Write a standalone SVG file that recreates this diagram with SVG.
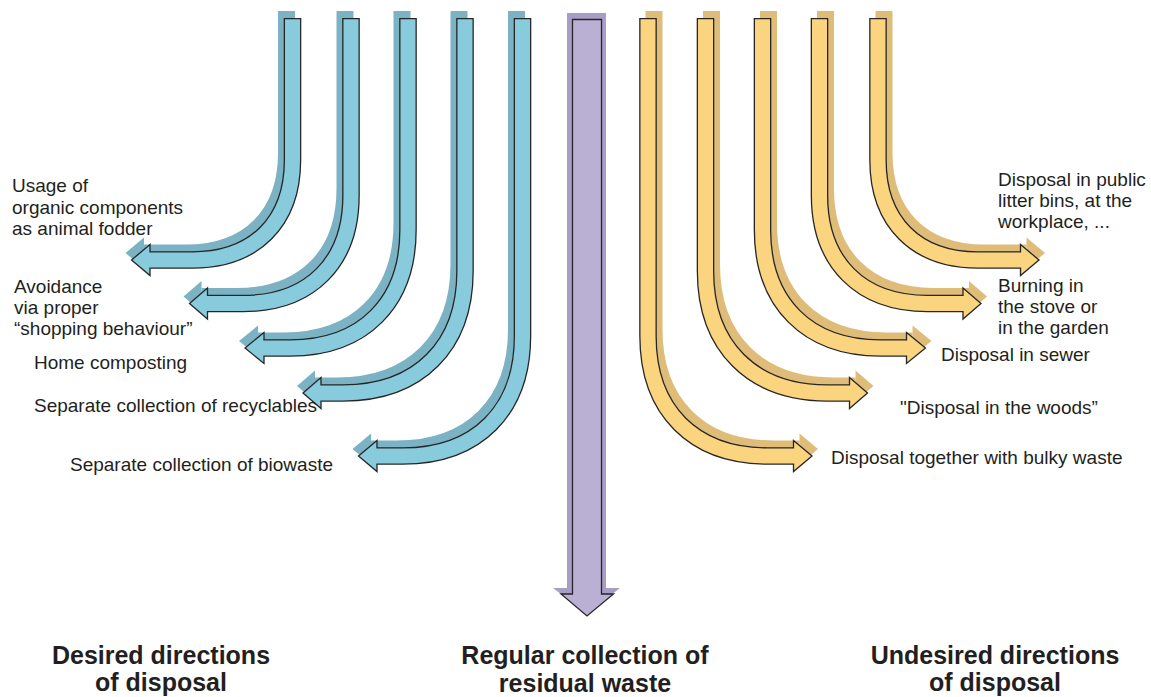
<svg xmlns="http://www.w3.org/2000/svg" width="1151" height="697" viewBox="0 0 1151 697">
<style>
.ol{fill:none;stroke:#262626;stroke-width:17.6}
.bc{fill:none;stroke:#87cbdc;stroke-width:15}
.bs{fill:none;stroke:#7bb3c5;stroke-width:17}
.bsf{fill:#7bb3c5}
.bh{fill:#87cbdc;stroke:#262626;stroke-width:1.3}
.yc{fill:none;stroke:#fbd47f;stroke-width:15}
.ys{fill:none;stroke:#dfbd79;stroke-width:17}
.ysf{fill:#dfbd79}
.yh{fill:#fbd47f;stroke:#262626;stroke-width:1.3}
text{font-family:"Liberation Sans",Arial,sans-serif;fill:#231f20}
.lb{font-size:19px}
.tt{font-size:25px;font-weight:bold;text-anchor:middle}
</style>
<rect width="1151" height="697" fill="#ffffff"/>
<g id="connectors">
  <g id="blue1">
    <g transform="translate(-6,-7)"><path class="bs" d="M292.5,18 V160 C292.5,222 254.5,260 192.5,260 H150"/><polygon class="bsf" points="150,244.5 131.5,260 150,275.5"/></g>
    <path class="ol" d="M292.5,18 V160 C292.5,222 254.5,260 192.5,260 H150"/>
    <polygon class="bh" points="150,244.5 131.5,260 150,275.5"/>
    <path class="bc" d="M292.5,19.3 V160 C292.5,222 254.5,260 192.5,260 H148.5"/>
  </g>
  <g id="blue2">
    <g transform="translate(-6,-7)"><path class="bs" d="M351,18 V195.5 C351,262.5 310,303.5 243,303.5 H207.5"/><polygon class="bsf" points="207.5,288 189.5,303.5 207.5,319"/></g>
    <path class="ol" d="M351,18 V195.5 C351,262.5 310,303.5 243,303.5 H207.5"/>
    <polygon class="bh" points="207.5,288 189.5,303.5 207.5,319"/>
    <path class="bc" d="M351,19.3 V195.5 C351,262.5 310,303.5 243,303.5 H206"/>
  </g>
  <g id="blue3">
    <g transform="translate(-6,-7)"><path class="bs" d="M408,18 V230 C408,303 363,348 290,348 H264"/><polygon class="bsf" points="264,332.5 245,348 264,363.5"/></g>
    <path class="ol" d="M408,18 V230 C408,303 363,348 290,348 H264"/>
    <polygon class="bh" points="264,332.5 245,348 264,363.5"/>
    <path class="bc" d="M408,19.3 V230 C408,303 363,348 290,348 H262.5"/>
  </g>
  <g id="blue4">
    <g transform="translate(-6,-7)"><path class="bs" d="M465,18 V271 C465,346.5 418.5,393 343,393 H321"/><polygon class="bsf" points="321,377.5 303,393 321,408.5"/></g>
    <path class="ol" d="M465,18 V271 C465,346.5 418.5,393 343,393 H321"/>
    <polygon class="bh" points="321,377.5 303,393 321,408.5"/>
    <path class="bc" d="M465,19.3 V271 C465,346.5 418.5,393 343,393 H319.5"/>
  </g>
  <g id="blue5">
    <g transform="translate(-6,-7)"><path class="bs" d="M522.5,18 V336 C522.5,410.5 477,456 402.5,456 H377"/><polygon class="bsf" points="377,440.5 358.5,456 377,471.5"/></g>
    <path class="ol" d="M522.5,18 V336 C522.5,410.5 477,456 402.5,456 H377"/>
    <polygon class="bh" points="377,440.5 358.5,456 377,471.5"/>
    <path class="bc" d="M522.5,19.3 V336 C522.5,410.5 477,456 402.5,456 H375.5"/>
  </g>
  <g id="purple">
    <polygon fill="#a89dc4" points="567,13 606,13 606,588 620,588 587,614 553,588 567,588"/>
    <polygon fill="#bab0d4" stroke="#262626" stroke-width="1.3" points="572.5,19.5 601.5,19.5 601.5,594 613.5,594 587,616 561,594 572.5,594"/>
  </g>
  <g id="yellow1">
    <g transform="translate(6,-7)"><path class="ys" d="M648,18 V336 C648,410.5 693.5,456 768,456 H793.5"/><polygon class="ysf" points="793.5,440.5 812,456 793.5,471.5"/></g>
    <path class="ol" d="M648,18 V336 C648,410.5 693.5,456 768,456 H793.5"/>
    <polygon class="yh" points="793.5,440.5 812,456 793.5,471.5"/>
    <path class="yc" d="M648,19.3 V336 C648,410.5 693.5,456 768,456 H795"/>
  </g>
  <g id="yellow2">
    <g transform="translate(6,-7)"><path class="ys" d="M705.5,18 V271 C705.5,346.5 752,393 827.5,393 H849.5"/><polygon class="ysf" points="849.5,377.5 867.5,393 849.5,408.5"/></g>
    <path class="ol" d="M705.5,18 V271 C705.5,346.5 752,393 827.5,393 H849.5"/>
    <polygon class="yh" points="849.5,377.5 867.5,393 849.5,408.5"/>
    <path class="yc" d="M705.5,19.3 V271 C705.5,346.5 752,393 827.5,393 H851"/>
  </g>
  <g id="yellow3">
    <g transform="translate(6,-7)"><path class="ys" d="M762.5,18 V230 C762.5,303 807.5,348 880.5,348 H906.5"/><polygon class="ysf" points="906.5,332.5 925.5,348 906.5,363.5"/></g>
    <path class="ol" d="M762.5,18 V230 C762.5,303 807.5,348 880.5,348 H906.5"/>
    <polygon class="yh" points="906.5,332.5 925.5,348 906.5,363.5"/>
    <path class="yc" d="M762.5,19.3 V230 C762.5,303 807.5,348 880.5,348 H908"/>
  </g>
  <g id="yellow4">
    <g transform="translate(6,-7)"><path class="ys" d="M819.5,18 V195.5 C819.5,262.5 860.5,303.5 927.5,303.5 H963"/><polygon class="ysf" points="963,288 981,303.5 963,319"/></g>
    <path class="ol" d="M819.5,18 V195.5 C819.5,262.5 860.5,303.5 927.5,303.5 H963"/>
    <polygon class="yh" points="963,288 981,303.5 963,319"/>
    <path class="yc" d="M819.5,19.3 V195.5 C819.5,262.5 860.5,303.5 927.5,303.5 H964.5"/>
  </g>
  <g id="yellow5">
    <g transform="translate(6,-7)"><path class="ys" d="M878,18 V160 C878,222 916,260 978,260 H1020.5"/><polygon class="ysf" points="1020.5,244.5 1039,260 1020.5,275.5"/></g>
    <path class="ol" d="M878,18 V160 C878,222 916,260 978,260 H1020.5"/>
    <polygon class="yh" points="1020.5,244.5 1039,260 1020.5,275.5"/>
    <path class="yc" d="M878,19.3 V160 C878,222 916,260 978,260 H1022"/>
  </g>
</g>
<g id="labels">
  <g id="label-fodder"><text class="lb" x="12" y="192">Usage of</text><text class="lb" x="12" y="214">organic components</text><text class="lb" x="12" y="235">as animal fodder</text></g>
  <g id="label-avoidance"><text class="lb" x="14" y="293">Avoidance</text><text class="lb" x="14" y="314">via proper</text><text class="lb" x="14" y="335">“shopping behaviour”</text></g>
  <g id="label-compost"><text class="lb" x="34" y="369">Home composting</text></g>
  <g id="label-recyclables"><text class="lb" x="34" y="412">Separate collection of recyclables</text></g>
  <g id="label-biowaste"><text class="lb" x="70" y="471">Separate collection of biowaste</text></g>
  <g id="label-public"><text class="lb" x="998" y="186">Disposal in public</text><text class="lb" x="998" y="207">litter bins, at the</text><text class="lb" x="998" y="228">workplace, ...</text></g>
  <g id="label-burning"><text class="lb" x="998" y="292">Burning in</text><text class="lb" x="998" y="313">the stove or</text><text class="lb" x="998" y="334">in the garden</text></g>
  <g id="label-sewer"><text class="lb" x="941" y="361">Disposal in sewer</text></g>
  <g id="label-woods"><text class="lb" x="900" y="414">"Disposal in the woods”</text></g>
  <g id="label-bulky"><text class="lb" x="831" y="464">Disposal together with bulky waste</text></g>
  <g id="title-desired"><text class="tt" x="161" y="664">Desired directions</text><text class="tt" x="161" y="691">of disposal</text></g>
  <g id="title-regular"><text class="tt" x="585" y="664">Regular collection of</text><text class="tt" x="585" y="692">residual waste</text></g>
  <g id="title-undesired"><text class="tt" x="995" y="664">Undesired directions</text><text class="tt" x="995" y="691">of disposal</text></g>
</g>
</svg>
